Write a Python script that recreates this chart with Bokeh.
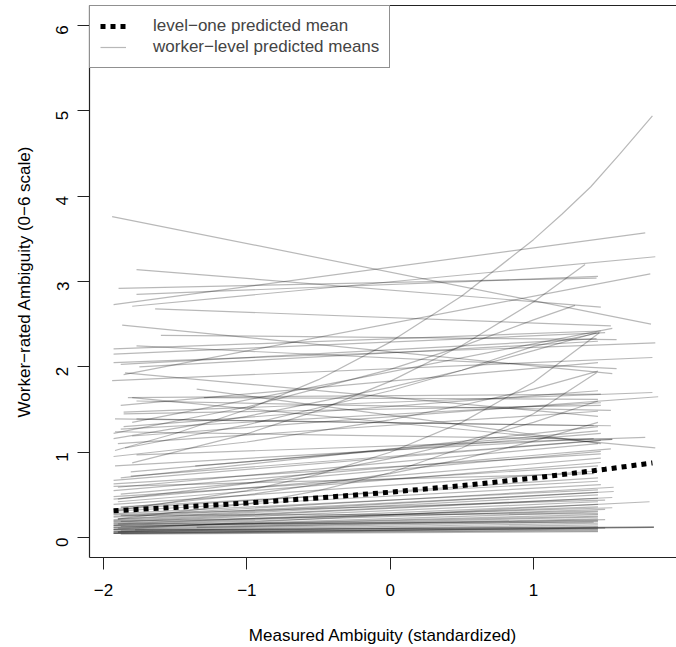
import math
from bokeh.plotting import figure
from bokeh.models import Range1d, FixedTicker, Legend, LegendItem, LinearAxis
from bokeh.embed import file_html
from bokeh.resources import INLINE

# ---- data ----
# level-one predicted mean
mean_x = [-1.93, -1.5, -1.0, -0.5, 0.0, 0.5, 1.0, 1.5, 1.83]
mean_y = [0.315, 0.354, 0.405, 0.465, 0.532, 0.609, 0.697, 0.800, 0.875]

# worker-level predicted means: nearly straight lines (start x, start y, end x, end y)
w_x0 = [-1.94, -1.77, -1.895, -1.77, -1.93, -1.80, -1.64, -1.87, -1.60, -1.93,
        -1.77, -1.93, -1.88, -1.94, -1.86,
        -1.92, -1.80, -1.92, -1.77, -1.86, -1.86, -1.77, -1.83, -1.80, -1.35,
        -1.85, -1.88, -1.90, -1.86, -1.30, -1.80, -1.88, -1.93, -1.75,
        -1.93, -1.93, -1.88, -1.93, -1.90, -1.93, -1.93, -1.88, -1.93, -1.90,
        -1.93, -1.93, -1.81, -1.81, -1.92, -1.36, -1.77, -1.88, -1.93,
        -1.93, -1.93, -1.93, -1.90, -1.93, -1.93, -1.88, -1.93, -1.93, -1.90,
        -1.93, -1.93, -1.88, -1.93, -1.93, -1.90, -1.93, -1.93, -1.88, -1.93,
        -1.93, -1.90, -1.93, -1.93, -1.88, -1.93, -1.93, -1.78, -1.93, -1.93,
        -1.88, -1.35, -1.93, -1.93, -1.93, -1.90, -1.93]
w_y0 = [3.76, 3.14, 2.92, 2.85, 2.73, 2.71, 2.68, 2.49, 2.37, 2.21,
        2.245, 2.05, 2.03, 1.84, 1.91,
        1.24, 1.19, 1.39, 1.39, 1.47, 1.45, 1.60, 1.64, 1.64, 1.74,
        1.93, 1.27, 1.10, 1.30, 1.64, 1.35, 1.55, 2.15, 2.00,
        0.31, 0.33, 0.36, 0.39, 0.42, 0.45, 0.48, 0.51, 0.55, 0.59,
        0.63, 0.67, 0.72, 0.77, 0.84, 0.84, 0.97, 0.70, 0.60,
        0.05, 0.05, 0.06, 0.06, 0.07, 0.07, 0.08, 0.09, 0.10, 0.11,
        0.12, 0.12, 0.13, 0.14, 0.15, 0.16, 0.17, 0.18, 0.19, 0.20,
        0.21, 0.22, 0.24, 0.25, 0.26, 0.27, 0.28, 0.09, 0.10, 0.14,
        0.04, 0.12, 0.16, 0.19, 0.05, 0.07, 0.09]
w_x1 = [1.82, 1.47, 1.44, 1.45, 1.78, 1.85, 1.54, 1.55, 1.58, 1.47,
        1.58, 1.85, 1.44, 1.83, 1.815,
        1.55, 1.87, 1.54, 1.42, 1.83, 1.47, 1.54, 1.47, 1.85, 1.47,
        1.45, 1.47, 1.45, 1.45, 1.45, 1.55, 1.45, 1.50, 1.45,
        1.47, 1.45, 1.45, 1.45, 1.47, 1.47, 1.45, 1.47, 1.54, 1.45,
        1.47, 1.47, 1.55, 1.45, 1.42, 1.47, 1.78, 1.45, 1.42,
        1.84, 1.45, 1.45, 1.50, 1.45, 1.45, 1.45, 1.45, 1.50, 1.45,
        1.45, 1.45, 1.45, 1.50, 1.45, 1.45, 1.55, 1.45, 1.45, 1.55,
        1.45, 1.45, 1.56, 1.56, 1.45, 1.50, 1.45, 1.84, 1.81, 1.45,
        1.45, 1.45, 1.42, 1.45, 1.45, 1.45, 1.84]
w_y1 = [2.50, 2.70, 3.04, 3.06, 3.57, 3.29, 2.48, 1.92, 2.32, 2.42,
        1.98, 2.28, 2.33, 2.11, 3.09,
        1.15, 1.65, 1.31, 1.31, 1.70, 1.55, 1.49, 1.68, 1.05, 1.10,
        1.42, 1.58, 1.48, 1.72, 1.62, 2.45, 2.05, 2.40, 2.30,
        0.62, 0.70, 0.66, 0.78, 0.88, 0.93, 0.84, 1.01, 1.04, 1.10,
        0.98, 1.14, 1.15, 1.25, 1.16, 1.22, 1.175, 1.30, 0.75,
        0.12, 0.09, 0.10, 0.11, 0.13, 0.15, 0.17, 0.19, 0.21, 0.24,
        0.27, 0.30, 0.25, 0.33, 0.36, 0.39, 0.35, 0.42, 0.46, 0.47,
        0.50, 0.53, 0.54, 0.59, 0.28, 0.44, 0.56, 0.125, 0.42, 0.20,
        0.07, 0.22, 0.18, 0.31, 0.08, 0.11, 0.12]

# worker-level predicted means with visible curvature
c_xs = [
    [-1.92, -1.5, -1.0, -0.5, 0.0, 0.5, 1.0, 1.2, 1.4, 1.6, 1.83],
    [-1.80, -1.0, -0.5, 0.0, 0.5, 1.0, 1.36],
    [-1.93, -1.0, 0.0, 0.5, 1.0, 1.29],
    [-1.90, -1.0, -0.5, 0.0, 0.5, 1.0, 1.46],
    [-1.90, -1.0, -0.5, 0.0, 0.5, 1.0, 1.44],
    [-1.90, -1.0, -0.5, 0.0, 0.5, 1.0, 1.45],
    [-1.93, -1.0, 0.0, 0.5, 1.0, 1.44],
    [-1.88, -1.0, 0.0, 0.5, 1.0, 1.45],
    [-1.85, -1.0, 0.0, 0.5, 1.0, 1.46],
    [-1.93, -1.0, 0.0, 0.5, 1.0, 1.45],
]
c_ys = [
    [1.02, 1.22, 1.50, 1.85, 2.29, 2.83, 3.49, 3.79, 4.11, 4.49, 4.94],
    [0.876, 1.216, 1.49, 1.83, 2.25, 2.76, 3.20],
    [1.22, 1.53, 1.97, 2.24, 2.55, 2.72],
    [0.32, 0.55, 0.74, 1.00, 1.35, 1.82, 2.40],
    [0.22, 0.395, 0.55, 0.76, 1.05, 1.45, 1.93],
    [0.45, 0.633, 0.765, 0.925, 1.12, 1.35, 1.60],
    [1.16, 1.42, 1.76, 1.96, 2.19, 2.40],
    [0.35, 0.50, 0.75, 0.92, 1.13, 1.35],
    [1.05, 1.32, 1.72, 1.96, 2.24, 2.40],
    [0.95, 1.12, 1.38, 1.55, 1.74, 1.95],
]

x_ticks = [-2, -1, 0, 1, 2]
y_ticks = [0, 1, 2, 3, 4, 5, 6]

FONT = "Liberation Sans"
FS = "17px"
EDGE = "#222222"

p = figure(width=676, height=647, output_backend="svg", toolbar_location=None,
           x_range=Range1d(-2.098, 1.998), y_range=Range1d(-0.233, 6.233),
           min_border=0, min_border_left=89, min_border_right=0,
           min_border_top=5, min_border_bottom=88)
p.grid.visible = False
p.outline_line_color = None
p.background_fill_color = "white"
p.border_fill_color = "white"

all_xs = [[a, b] for a, b in zip(w_x0, w_x1)] + c_xs
all_ys = [[a, b] for a, b in zip(w_y0, w_y1)] + c_ys
gray_r = p.multi_line(all_xs, all_ys, line_color="black", line_alpha=0.28,
                      line_width=1.2)
mean_r = p.line(mean_x, mean_y, line_color="black", line_width=5,
                line_dash="5 5", line_cap="butt")

xax = p.below[0]
yax = p.left[0]
for ax in (xax, yax):
    ax.major_tick_out = 12
    ax.major_tick_in = 0
    ax.minor_tick_out = 0
    ax.minor_tick_in = 0
    ax.axis_line_color = EDGE
    ax.axis_line_width = 1.2
    ax.major_tick_line_color = EDGE
    ax.major_label_text_font = FONT
    ax.major_label_text_font_size = FS
    ax.major_label_text_color = "black"
    ax.axis_label_text_font = FONT
    ax.axis_label_text_font_size = FS
    ax.axis_label_text_font_style = "normal"
    ax.axis_label_text_color = "black"

xax.ticker = FixedTicker(ticks=x_ticks)
yax.ticker = FixedTicker(ticks=y_ticks)
xax.major_label_overrides = {t: str(t).replace("-", "\u2212") for t in x_ticks}
xax.axis_label = "Measured Ambiguity (standardized)"
yax.axis_label = "Worker\u2212rated Ambiguity (0\u22126 scale)"
xax.major_label_standoff = 14
xax.axis_label_standoff = 27
yax.major_label_standoff = 15
yax.axis_label_standoff = 14
yax.major_label_orientation = math.pi / 2

# top edge of the box (the right edge lies outside the picture)
top_edge = LinearAxis(ticker=FixedTicker(ticks=[]), axis_line_color=EDGE,
                      axis_line_width=1.2, major_tick_out=0, major_tick_in=0,
                      minor_tick_out=0, minor_tick_in=0,
                      major_label_text_font_size="0px",
                      major_label_standoff=0, axis_label=None)
p.add_layout(top_edge, "above")

legend = Legend(items=[
    LegendItem(label="level\u2212one predicted mean", renderers=[mean_r]),
    LegendItem(label="worker\u2212level predicted means", renderers=[gray_r]),
], location="top_left", margin=0, padding=10, spacing=1, label_standoff=27,
    glyph_width=26, glyph_height=20, label_height=20,
    label_text_font=FONT, label_text_font_size=FS,
    border_line_color=EDGE, border_line_width=1.2,
    background_fill_color="white", background_fill_alpha=1.0)
p.add_layout(legend)

open("out.html", "w").write(file_html(p, INLINE))
